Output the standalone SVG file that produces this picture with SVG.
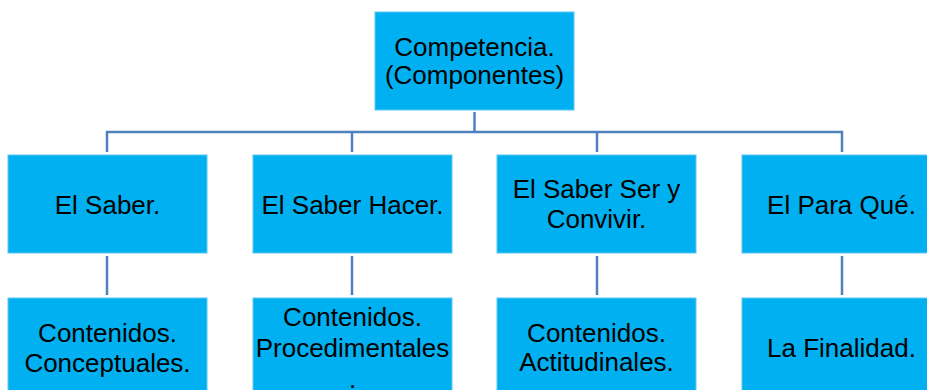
<svg xmlns="http://www.w3.org/2000/svg" width="927" height="390" viewBox="0 0 927 390">
<style>
.box{fill:#00B0F0;stroke:#5CC8F2;stroke-width:1}
.t{font-family:"Liberation Sans",Arial,sans-serif;font-size:26px;fill:#000;text-anchor:middle}
.c{stroke:#4F81BD;stroke-width:2.5;fill:none}
</style>
<rect width="927" height="390" fill="#fff"/>
<g id="connectors">
<path class="c" d="M474.5 112V132M107 152V132H842V152M352 132V152M597 132V152"/>
<path class="c" d="M107 256V295M352 256V295M597 256V295M842 256V295"/>
</g>
<g id="n-top"><rect class="box" x="375" y="12" width="199" height="98"/>
<text class="t" x="474.5" y="56">Competencia.</text><text class="t" x="474.5" y="84">(Componentes)</text></g>
<g id="n-saber"><rect class="box" x="8" y="155" width="199" height="98"/>
<text class="t" x="107.5" y="214">El Saber.</text></g>
<g id="n-hacer"><rect class="box" x="253" y="155" width="199" height="98"/>
<text class="t" x="352.5" y="214">El Saber Hacer.</text></g>
<g id="n-ser"><rect class="box" x="497" y="155" width="199" height="98"/>
<text class="t" x="596.5" y="198">El Saber Ser y</text><text class="t" x="596.5" y="228">Convivir.</text></g>
<g id="n-para"><rect class="box" x="742" y="155" width="199" height="98"/>
<text class="t" x="841.5" y="214">El Para Qué.</text></g>
<g id="n-concept"><rect class="box" x="8" y="298" width="199" height="98"/>
<text class="t" x="107.5" y="342">Contenidos.</text><text class="t" x="107.5" y="372">Conceptuales.</text></g>
<g id="n-proc"><rect class="box" x="253" y="298" width="199" height="98"/>
<text class="t" x="352.5" y="326">Contenidos.</text><text class="t" x="352.5" y="357">Procedimentales</text><text class="t" x="352.5" y="388">.</text></g>
<g id="n-actit"><rect class="box" x="497" y="298" width="199" height="98"/>
<text class="t" x="596.5" y="342">Contenidos.</text><text class="t" x="596.5" y="371">Actitudinales.</text></g>
<g id="n-final"><rect class="box" x="742" y="298" width="199" height="98"/>
<text class="t" x="841.5" y="357">La Finalidad.</text></g>
</svg>
